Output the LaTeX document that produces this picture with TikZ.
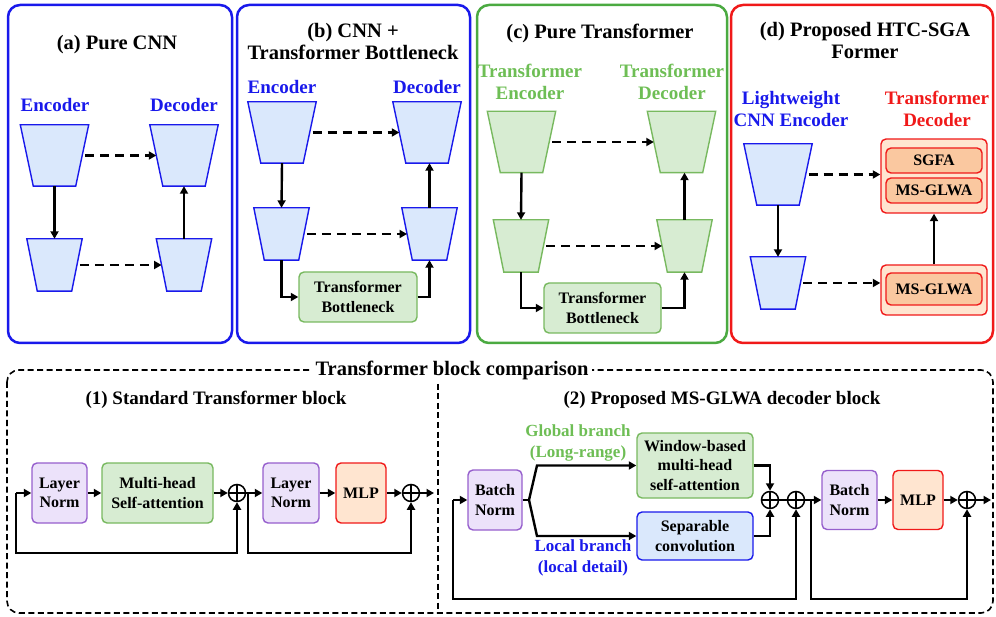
\documentclass[tikz,border=0pt]{standalone}
\usepackage{fontspec}
\setmainfont{Liberation Serif}
\usetikzlibrary{arrows.meta}

\definecolor{cnnblue}{RGB}{25,25,235}
\definecolor{cnnfill}{RGB}{218,232,252}
\definecolor{trline}{RGB}{120,185,95}
\definecolor{trfill}{RGB}{215,236,210}
\definecolor{trtext}{RGB}{110,190,85}
\definecolor{panelgreen}{RGB}{75,170,65}
\definecolor{htcred}{RGB}{240,25,25}
\definecolor{mlpfill}{RGB}{255,229,208}
\definecolor{glwafill}{RGB}{250,200,160}
\definecolor{normline}{RGB}{150,95,205}
\definecolor{normfill}{RGB}{236,226,250}

\newcommand\titlef{\fontsize{20.5}{22}\selectfont\bfseries}
\newcommand\labf{\fontsize{19}{22}\selectfont\bfseries}
\newcommand\brf{\fontsize{17}{21}\selectfont\bfseries}
\newcommand\boxf{\fontsize{16}{19.5}\selectfont\bfseries}

% style, name, position, mid width, height, quarter of (top - bottom)
\newcommand\trapnode[6]{%
  \node[inner sep=0pt, minimum width=#4pt, minimum height=#5pt] (#2) at (#3) {};
  \draw[#1] ([xshift=-#6pt]#2.north west) -- ([xshift=#6pt]#2.north east)
    -- ([xshift=-#6pt]#2.south east) -- ([xshift=#6pt]#2.south west) -- cycle;}
\newcommand\bigtrap[3]{\trapnode{#1}{#2}{#3}{55}{61}{6.5}}
\newcommand\smalltrap[3]{\trapnode{#1}{#2}{#3}{44.5}{52}{5.25}}

\begin{document}
\begin{tikzpicture}[x=1pt, y=-1pt,
  panel/.style={line width=2.5pt, rounded corners=12pt},
  ttl/.style={font=\titlef, align=center, inner sep=0pt},
  lab/.style={font=\labf, align=center, inner sep=0pt},
  brlab/.style={font=\brf, align=center, inner sep=0pt},
  cnnshape/.style={draw=cnnblue, fill=cnnfill, line width=1.4pt},
  trshape/.style={draw=trline, fill=trfill, line width=1.4pt},
  blk/.style={rectangle, rounded corners=5pt, line width=1.4pt, font=\boxf,
    align=center, inner sep=0pt},
  normblk/.style={blk, draw=normline, fill=normfill},
  attnblk/.style={blk, draw=trline, fill=trfill},
  convblk/.style={blk, draw=cnnblue, fill=cnnfill},
  mlpblk/.style={blk, draw=htcred, fill=mlpfill},
  glwablk/.style={blk, draw=htcred, fill=glwafill},
  arr/.style={line width=2.4pt, -{Triangle[length=7.5pt,width=8pt]}},
  skipconn/.style={arr, dash pattern=on 9pt off 6pt},
  oplus/.style={circle, draw, line width=1.5pt, minimum size=17pt, inner sep=0pt,
    path picture={\draw[line width=1.5pt]
      (path picture bounding box.north) -- (path picture bounding box.south)
      (path picture bounding box.west) -- (path picture bounding box.east);}}]

\useasboundingbox (0,0) rectangle (996,617);

%%%%% (a) Pure CNN %%%%%
\draw[panel, cnnblue] (8,5) rectangle (232,343);
\node[ttl] (ttlA) at (117,45) {(a) Pure CNN};
\node[lab, text=cnnblue] (encA) at (55,105) {Encoder};
\node[lab, text=cnnblue] (decA) at (184,105) {Decoder};
\bigtrap{cnnshape}{ea1}{54.5,155.5}
\bigtrap{cnnshape}{da1}{184,155.5}
\smalltrap{cnnshape}{ea2}{54.5,265}
\smalltrap{cnnshape}{da2}{184,265}
\draw[arr] (ea1.south) -- (ea2.north);
\draw[arr] (da2.north) -- (da1.south);
\draw[skipconn, shorten <=3pt] (ea1.east) -- (da1.west);
\draw[skipconn, shorten <=3pt] (ea2.east) -- (da2.west);

%%%%% (b) CNN + Transformer Bottleneck %%%%%
\draw[panel, cnnblue] (237,5) rectangle (470,343);
\node[ttl] (ttlB) at (353,41) {(b) CNN +\\Transformer Bottleneck};
\node[lab, text=cnnblue] (encB) at (282,87) {Encoder};
\node[lab, text=cnnblue] (decB) at (427,87) {Decoder};
\bigtrap{cnnshape}{eb1}{282,132.5}
\bigtrap{cnnshape}{db1}{427,132.5}
\smalltrap{cnnshape}{eb2}{281.5,234}
\smalltrap{cnnshape}{db2}{429.5,234}
\node[attnblk, minimum width=118pt, minimum height=50pt] (botB) at (358,297) {Transformer\\Bottleneck};
\draw[arr] (eb1.south) -- (eb2.north);
\draw[arr] (db2.north) -- (db2.north |- db1.south);
\draw[skipconn, shorten <=3pt] (eb1.east) -- (db1.west);
\draw[skipconn, shorten <=3pt] (eb2.east) -- (db2.west);
\draw[arr] (eb2.south) |- (botB.west);
\draw[arr] (botB.east) -| (db2.south);

%%%%% (c) Pure Transformer %%%%%
\draw[panel, panelgreen] (477,5) rectangle (727,343);
\node[ttl] (ttlC) at (600,33) {(c) Pure Transformer};
\node[lab, text=trtext] (encC) at (530,82) {Transformer\\Encoder};
\node[lab, text=trtext] (decC) at (672,82) {Transformer\\Decoder};
\bigtrap{trshape}{ec1}{521.5,142}
\bigtrap{trshape}{dc1}{681.5,142}
\smalltrap{trshape}{ec2}{521,246}
\smalltrap{trshape}{dc2}{684.5,246}
\node[attnblk, minimum width=117pt, minimum height=50pt] (botC) at (602.5,308) {Transformer\\Bottleneck};
\draw[arr] (ec1.south) -- (ec2.north);
\draw[arr] (dc2.north) -- (dc2.north |- dc1.south);
\draw[skipconn, shorten <=3pt] (ec1.east) -- (dc1.west);
\draw[skipconn, shorten <=3pt] (ec2.east) -- (dc2.west);
\draw[arr] (ec2.south) |- (botC.west);
\draw[arr] (botC.east) -| (dc2.south);

%%%%% (d) Proposed HTC-SGA Former %%%%%
\draw[panel, htcred] (731,5) rectangle (993,343);
\node[ttl] (ttlD) at (865,40) {(d) Proposed HTC-SGA\\Former};
\node[lab, text=cnnblue] (encD) at (791,109) {Lightweight\\CNN Encoder};
\node[lab, text=htcred] (decD) at (937,109) {Transformer\\Decoder};
\bigtrap{cnnshape}{ed1}{778,174.5}
\smalltrap{cnnshape}{ed2}{778,283}
\node[blk, draw=htcred, fill=mlpfill, minimum width=106pt, minimum height=74pt] (grp1) at (934,176) {};
\node[glwablk, minimum width=96pt, minimum height=25pt] (sgfa) at (934,160.5) {SGFA};
\node[glwablk, minimum width=96pt, minimum height=25pt] (msd1) at (934,190.5) {MS-GLWA};
\node[blk, draw=htcred, fill=mlpfill, minimum width=106pt, minimum height=50pt] (grp2) at (934,290) {};
\node[glwablk, minimum width=96pt, minimum height=32pt] (msd2) at (934,289) {MS-GLWA};
\draw[arr] (ed1.south) -- (ed2.north);
\draw[arr] (grp2.north) -- (grp1.south);
\draw[skipconn, shorten <=3pt] (ed1.east) -- (ed1.east -| grp1.west);
\draw[skipconn, shorten <=3pt] (ed2.east) -- (ed2.east -| grp2.west);

%%%%% Transformer block comparison %%%%%
\draw[line width=1.6pt, dash pattern=on 6pt off 3.5pt, rounded corners=12pt] (7,370) rectangle (993,613);
\draw[line width=1.6pt, dash pattern=on 6pt off 3.5pt] (438,384) -- (438,613);
\node[ttl, fill=white, inner xsep=4pt, inner ysep=2pt] (ttlCmp) at (452,370) {Transformer block comparison};
\node[lab] (sec1) at (216,400) {(1) Standard Transformer block};
\node[lab] (sec2) at (722,400) {(2) Proposed MS-GLWA decoder block};

% (1) standard block
\coordinate (in1) at (16,493);
\node[normblk, minimum width=55pt, minimum height=60pt] (ln1) at (59.5,493) {Layer\\Norm};
\node[attnblk, minimum width=111pt, minimum height=60pt] (mha) at (157.5,493) {Multi-head\\Self-attention};
\node[oplus] (add1) at (237,493) {};
\coordinate (sp1) at (248,493);
\node[normblk, minimum width=56pt, minimum height=60pt] (ln2) at (291,493) {Layer\\Norm};
\node[mlpblk, minimum width=50pt, minimum height=60pt] (mlp1) at (361,493) {MLP};
\node[oplus] (add2) at (411,493) {};
\coordinate (out1) at (434,493);
\draw[arr] (in1) -- (ln1);
\draw[arr] (ln1) -- (mha);
\draw[arr] (mha) -- (add1);
\draw[arr] (add1) -- (ln2);
\draw[arr] (ln2) -- (mlp1);
\draw[arr] (mlp1) -- (add2);
\draw[arr] (add2) -- (out1);
\draw[arr] (in1) -- ++(0,60) -| (add1.south);
\draw[arr] (sp1) -- ++(0,60) -| (add2.south);

% (2) MS-GLWA block
\coordinate (in2) at (453,500);
\node[normblk, minimum width=54pt, minimum height=60pt] (bn1) at (495,500) {Batch\\Norm};
\coordinate (jn) at (529,500);
\node[attnblk, minimum width=116pt, minimum height=65pt] (win) at (695,465.5) {Window-based\\multi-head\\self-attention};
\node[convblk, minimum width=116pt, minimum height=48pt] (sep) at (695,536) {Separable\\convolution};
\coordinate (gup) at (537,465.5);
\coordinate (gdn) at (537,536);
\node[brlab, text=trtext] (glob) at (578,443) {Global branch\\(Long-range)};
\node[brlab, text=cnnblue] (loc) at (583,558) {Local branch\\(local detail)};
\node[oplus] (adda) at (770,500) {};
\node[oplus] (addb) at (796,500) {};
\coordinate (sp2) at (811,500);
\node[normblk, minimum width=55pt, minimum height=59pt] (bn2) at (849.5,500) {Batch\\Norm};
\node[mlpblk, minimum width=50pt, minimum height=59pt] (mlp2) at (918,500) {MLP};
\node[oplus] (addc) at (967,500) {};
\coordinate (out2) at (991,500);
\draw[arr] (in2) -- (bn1);
\draw[line width=2.4pt] (bn1) -- (jn);
\draw[arr] (jn) -- (gup) -- (win.west);
\draw[arr] (jn) -- (gdn) -- (sep.west);
\draw[arr] (win.east) -| (adda.north);
\draw[arr] (sep.east) -| (adda.south);
\draw[line width=2.4pt] (adda) -- (addb);
\draw[arr] (addb) -- (bn2);
\draw[arr] (bn2) -- (mlp2);
\draw[arr] (mlp2) -- (addc);
\draw[arr] (addc) -- (out2);
\draw[arr] (in2) -- ++(0,99) -| (addb.south);
\draw[arr] (sp2) -- ++(0,99) -| (addc.south);

\end{tikzpicture}
\end{document}
